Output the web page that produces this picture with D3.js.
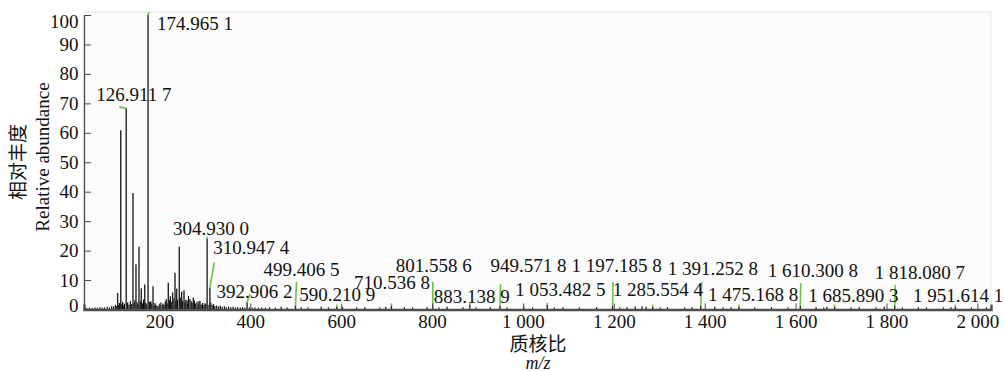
<!DOCTYPE html>
<html>
<head>
<meta charset="utf-8">
<script src="https://cdn.jsdelivr.net/npm/d3@7"></script>
<style>
  html, body { margin: 0; padding: 0; background: #fff; }
  svg { display: block; }
  text { font-family: "Liberation Serif", "Times New Roman", serif; fill: #111; }
  .cjk { font-family: "Noto Sans CJK SC", sans-serif; }
</style>
</head>
<body>
<svg id="chart" width="1004" height="371"></svg>
<script>
// Annotated peaks: m/z and relative abundance (%)
const labeledMz = [174.9651, 126.9117, 304.9300, 310.9474, 392.9062, 499.4065, 590.2109,
  710.5368, 801.5586, 883.1389, 949.5718, 1053.4825, 1197.1858, 1285.5544, 1391.2528,
  1475.1688, 1610.3008, 1685.8903, 1818.0807, 1951.6141];
const labeledAbundance = [100, 68.3, 24.0, 7.5, 2.5, 1.2, 1.0, 1.4, 1.2, 1.5, 1.2, 1.6,
  1.2, 1.0, 1.2, 1.0, 1.2, 1.0, 1.2, 1.0];

// Other prominent fragment peaks [m/z, abundance]
const fragmentPeaks = [
  [108.0, 5.6], [114.8, 60.9], [141.8, 39.6], [148.4, 15.4], [155.0, 21.3], [160.1, 7.2],
  [167.6, 8.5], [180.8, 2.8], [185.9, 7.9], [194.7, 1.3], [210.1, 1.6], [219.5, 9.1],
  [229.0, 5.8], [234.3, 12.5], [238.0, 7.1], [243.7, 21.3], [249.0, 6.1], [254.1, 6.5],
  [260.7, 3.1], [267.3, 3.6], [274.5, 4.0], [282.7, 2.6], [289.3, 2.8], [300.3, 2.1]
];

// Low-level background signal [m/z, abundance]
const baselinePeaks = [
  [40, 0.5], [46, 0.6], [52, 0.5], [58, 0.7], [63, 0.6], [69, 0.8], [74, 0.6], [79, 0.7],
  [85, 0.9], [90, 0.7], [95, 1.2], [99, 1.0], [103, 1.6], [105, 1.2],
  [110, 1.5], [112, 2.2], [117, 1.8], [119, 2.6], [121, 1.4], [123, 2.0], [130, 2.4],
  [133, 1.6], [136, 2.8], [139, 1.9], [144, 2.2], [146, 3.1], [151, 2.5], [153, 1.8],
  [158, 2.9], [163, 2.1], [165, 3.4], [170, 2.3], [172, 1.7], [178, 2.6], [183, 2.0],
  [188, 1.3], [190, 2.2], [192, 1.6], [197, 1.1], [200, 1.8], [203, 2.4], [206, 1.5],
  [208, 2.0], [213, 2.8], [215, 3.6], [217, 2.1], [222, 3.2], [224, 4.5], [226, 2.6],
  [232, 3.8], [236, 2.9], [240, 3.4], [246, 4.1], [251, 3.0], [256, 2.4], [258, 3.3],
  [262, 2.0], [264, 4.6], [270, 2.8], [272, 2.2], [277, 3.1], [279, 2.0], [285, 1.8],
  [287, 2.9], [292, 1.7], [295, 2.2], [298, 1.5], [302, 1.9], [307, 1.6], [313, 2.4],
  [316, 1.5], [319, 1.9], [322, 1.2], [326, 1.4], [330, 1.0], [334, 1.3], [338, 0.9],
  [343, 1.1], [347, 0.8], [352, 1.0], [357, 0.8], [362, 0.9], [367, 0.7], [372, 0.8],
  [378, 0.7], [383, 0.8], [388, 0.6], [398, 0.7], [404, 0.6], [410, 0.7], [418, 0.6],
  [425, 0.7], [433, 0.6],
  [442, 0.8], [455, 0.6], [468, 0.9], [481, 0.7], [512, 0.8], [527, 0.7], [556, 0.9],
  [572, 0.7], [603, 0.8], [634, 0.7], [652, 0.8], [685, 0.7], [698, 0.9], [739, 0.8],
  [757, 0.7], [789, 0.8], [815, 0.7], [833, 0.9], [868, 0.8], [897, 0.7], [928, 0.8],
  [965, 0.7], [1002, 1.0], [1021, 0.7], [1069, 0.7], [1088, 0.8], [1124, 0.7],
  [1162, 0.8], [1213, 0.7], [1229, 0.8], [1247, 1.0], [1262, 1.1], [1271, 0.9],
  [1302, 0.7], [1318, 0.8], [1356, 0.7], [1372, 0.8], [1422, 0.9], [1440, 0.7],
  [1458, 0.8], [1510, 0.7], [1547, 0.8], [1583, 0.7], [1645, 0.8], [1662, 0.7],
  [1669, 0.9], [1722, 0.7], [1740, 0.8], [1777, 0.7], [1795, 0.9], [1835, 0.7],
  [1870, 0.8], [1888, 0.7], [1925, 0.7], [1942, 0.8], [1987, 0.7], [2020, 0.7]
];

const xTicks = [200, 400, 600, 800, 1000, 1200, 1400, 1600, 1800, 2000];
const yTicks = [0, 10, 20, 30, 40, 50, 60, 70, 80, 90, 100];

// Label placement (pixel offsets from each annotated peak's apex)
const labelOffset = [
  [9, 15], [-30, -7], [-34, -3.5], [3.5, -33.5], [-30.5, -4], [-32, -30], [-37.5, -6],
  [-37.5, -16], [-37, -34], [-36, -2], [-9.5, -34], [-32, -8.5], [-41, -34], [-40, -10.5],
  [-33, -30.5], [-31, -6], [-32.5, -29], [-26.5, -4.5], [-20, -27], [-42.5, -4.5]
];
const leaderEnd = [
  [1, -3], [-7, -1.5], [0, -2], [4.5, -25], [3, -8], [1, -24], [0, -2],
  [0, -2], [0, -24], [0, -2], [0.5, -22], [0, -2], [0.5, -24], [0, -2],
  [1, -24], [0, -2], [0.5, -23], [0, -2], [0.5, -21], [0, -2]
];

const svg = d3.select("#chart");
const plot = { left: 84, right: 991, top: 12, bottom: 309.5 };

const x = d3.scaleLinear().domain([34, 2030]).range([plot.left, plot.right]);
const y = d3.scaleLinear().domain([0, 100]).range([plot.bottom, 15]);

const locale = d3.formatLocale({ decimal: ".", thousands: " ", grouping: [3], currency: ["", ""] });
const tickFmt = locale.format(",d");
// m/z label: thousands and decimal digits grouped in threes with spaces
function mzLabel(v) {
  const [ip, fp] = v.toFixed(4).split(".");
  const intPart = tickFmt(+ip);
  return intPart + "." + fp.slice(0, 3) + " " + fp.slice(3);
}

// plot background
svg.append("rect")
  .attr("x", plot.left).attr("y", plot.top)
  .attr("width", plot.right - plot.left).attr("height", plot.bottom - plot.top)
  .attr("fill", "#fbfbfb").attr("stroke", "#e6e6e6").attr("stroke-width", 1);

// spectrum sticks
const sticks = svg.append("g");
sticks.selectAll("line.base").data(baselinePeaks).join("line")
  .attr("class", "base")
  .attr("x1", d => x(d[0])).attr("x2", d => x(d[0]))
  .attr("y1", y(0)).attr("y2", d => y(d[1]))
  .attr("stroke", "#111").attr("stroke-width", 1.2);
sticks.selectAll("line.frag").data(fragmentPeaks).join("line")
  .attr("class", "frag")
  .attr("x1", d => x(d[0])).attr("x2", d => x(d[0]))
  .attr("y1", y(0)).attr("y2", d => y(d[1]))
  .attr("stroke", "#262626").attr("stroke-width", 1.4);
const labeled = labeledMz.map((m, i) => ({ mz: m, v: labeledAbundance[i], off: labelOffset[i], lead: leaderEnd[i] }));
sticks.selectAll("line.lab").data(labeled).join("line")
  .attr("class", "lab")
  .attr("x1", d => x(d.mz)).attr("x2", d => x(d.mz))
  .attr("y1", y(0)).attr("y2", d => y(d.v))
  .attr("stroke", "#262626").attr("stroke-width", 1.4);

// leader lines to annotations
svg.append("g").selectAll("line").data(labeled).join("line")
  .attr("x1", d => x(d.mz)).attr("y1", d => y(d.v))
  .attr("x2", d => x(d.mz) + d.lead[0]).attr("y2", d => y(d.v) + d.lead[1])
  .attr("stroke", "#6cc24a").attr("stroke-width", 1.6);

// x axis
const xAxis = svg.append("g")
  .attr("transform", `translate(0,${plot.bottom})`)
  .call(d3.axisBottom(x).tickValues(xTicks).tickFormat(tickFmt).tickSize(-6).tickSizeOuter(-5).tickPadding(6));
xAxis.select(".domain").attr("stroke", "#4d4d4d").attr("stroke-width", 2.4);
xAxis.selectAll(".tick line").attr("stroke", "#4d4d4d").attr("stroke-width", 1);
xAxis.selectAll(".tick text").attr("font-size", 19).attr("y", 5.5).attr("dy", "0.71em")
  .attr("font-family", "Liberation Serif, serif").attr("fill", "#111");

// y axis
const clampY = v => Math.max(21, Math.min(305.5, y(v)));
const yAxis = svg.append("g")
  .attr("transform", `translate(${plot.left},0)`)
  .call(d3.axisLeft(y).tickValues(yTicks).tickSize(-7).tickSizeOuter(0).tickPadding(5.5));
yAxis.select(".domain").attr("stroke", "#4d4d4d").attr("stroke-width", 1.3);
yAxis.selectAll(".tick line").attr("stroke", "#4d4d4d").attr("stroke-width", 1);
yAxis.selectAll(".tick text").attr("font-size", 19)
  .attr("y", d => clampY(d) - y(d))
  .attr("font-family", "Liberation Serif, serif").attr("fill", "#111");

// peak annotations
svg.append("g").selectAll("text").data(labeled).join("text")
  .attr("x", d => x(d.mz) + d.off[0])
  .attr("y", d => y(d.v) + d.off[1])
  .attr("font-size", 19)
  .text(d => mzLabel(d.mz));

// axis titles
svg.append("text").attr("class", "cjk")
  .attr("transform", "translate(24.5,162) rotate(-90)")
  .attr("text-anchor", "middle").attr("font-size", 19).text("相对丰度");
svg.append("text")
  .attr("transform", "translate(49,157) rotate(-90)")
  .attr("text-anchor", "middle").attr("font-size", 19).text("Relative abundance");
svg.append("text").attr("class", "cjk")
  .attr("x", 538).attr("y", 351).attr("text-anchor", "middle").attr("font-size", 19).text("质核比");
svg.append("text")
  .attr("x", 538).attr("y", 368.5).attr("text-anchor", "middle").attr("font-size", 18)
  .attr("font-style", "italic").text("m/z");
</script>
</body>
</html>
